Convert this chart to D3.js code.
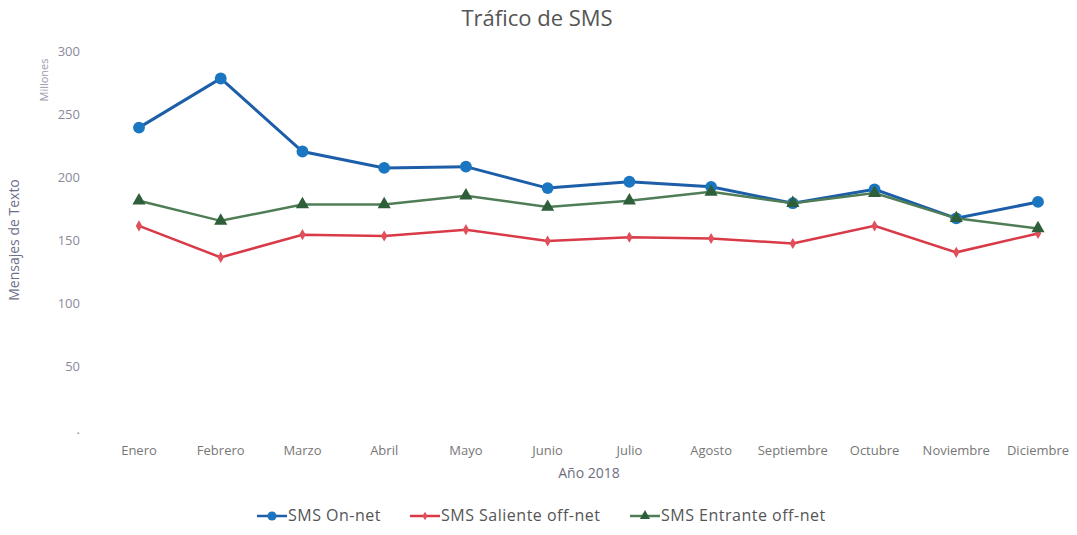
<!DOCTYPE html>
<html>
<head>
<meta charset="utf-8">
<script src="https://cdn.jsdelivr.net/npm/d3@7"></script>
<style>
  body { margin: 0; background: #fff; }
  svg { font-family: "Open Sans", "Noto Sans", sans-serif; }
</style>
</head>
<body>
<div id="chart"></div>
<script>
const months = ["Enero", "Febrero", "Marzo", "Abril", "Mayo", "Junio", "Julio", "Agosto", "Septiembre", "Octubre", "Noviembre", "Diciembre"]
const onNet = [240, 279, 221, 208, 209, 192, 197, 193, 180, 191, 168, 181]
const salienteOffNet = [162, 137, 155, 154, 159, 150, 153, 152, 148, 162, 141, 156]
const entranteOffNet = [182, 166, 179, 179, 186, 177, 182, 189, 180, 188, 168, 160]
const yTicks = [0, 50, 100, 150, 200, 250, 300]

const series = [
  { name: "SMS On-net", values: onNet, line: "#1c5ea8", mark: "#1a76c0", shape: "circle" },
  { name: "SMS Saliente off-net", values: salienteOffNet, line: "#d93a48", mark: "#e0505a", shape: "diamond" },
  { name: "SMS Entrante off-net", values: entranteOffNet, line: "#4f7d56", mark: "#2f5f3a", shape: "triangle" }
]

const width = 1077
const height = 535
const svg = d3.select("#chart").append("svg")
  .attr("width", width)
  .attr("height", height)

const x = d3.scalePoint().domain(months).range([139, 1038])
const y = d3.scaleLinear().domain([0, 300]).range([430, 52])

svg.append("text")
  .attr("x", 537)
  .attr("y", 26)
  .attr("text-anchor", "middle")
  .attr("font-size", "22px")
  .attr("fill", "#555")
  .text("Tráfico de SMS")

// y axis labels
svg.append("g")
  .selectAll("text")
  .data(yTicks)
  .enter()
  .append("text")
  .attr("x", 80)
  .attr("y", (d) => y(d) + 4)
  .attr("text-anchor", "end")
  .attr("font-size", "13px")
  .attr("fill", "#8a8a9a")
  .text((d) => (d === 0 ? "." : d))

svg.append("text")
  .attr("transform", "translate(48,80) rotate(-90)")
  .attr("text-anchor", "middle")
  .attr("font-size", "11px")
  .attr("fill", "#9a9aae")
  .text("Millones")

svg.append("text")
  .attr("transform", "translate(19,240) rotate(-90)")
  .attr("text-anchor", "middle")
  .attr("font-size", "14px")
  .attr("fill", "#6e6e8a")
  .text("Mensajes de Texto")

// x axis labels
svg.append("g")
  .selectAll("text")
  .data(months)
  .enter()
  .append("text")
  .attr("x", (d) => x(d))
  .attr("y", 455)
  .attr("text-anchor", "middle")
  .attr("font-size", "13px")
  .attr("fill", "#777")
  .text((d) => d)

svg.append("text")
  .attr("x", 589)
  .attr("y", 478)
  .attr("text-anchor", "middle")
  .attr("font-size", "14px")
  .attr("fill", "#6e6e80")
  .text("Año 2018")

const symbolFor = (shape, size) => {
  const type = shape === "circle" ? d3.symbolCircle : shape === "diamond" ? d3.symbolDiamond : d3.symbolTriangle
  return d3.symbol().type(type).size(size)()
}
const sizes = { circle: 110, diamond: 36, triangle: 75 }

const line = d3.line()
  .x((d, i) => x(months[i]))
  .y((d) => y(d))

series.forEach((s) => {
  const g = svg.append("g")
  g.append("path")
    .attr("d", line(s.values))
    .attr("fill", "none")
    .attr("stroke", s.line)
    .attr("stroke-width", s.shape === "circle" ? 3 : 2.5)
  g.selectAll("path.mk")
    .data(s.values)
    .enter()
    .append("path")
    .attr("class", "mk")
    .attr("transform", (d, i) => `translate(${x(months[i])},${y(d)})`)
    .attr("d", symbolFor(s.shape, sizes[s.shape]))
    .attr("fill", s.mark)
})

// legend
const legendX = [257, 410, 630]
const legend = svg.append("g")
series.forEach((s, i) => {
  const lg = legend.append("g").attr("transform", `translate(${legendX[i]},516)`)
  lg.append("line")
    .attr("x1", 0).attr("x2", 30)
    .attr("stroke", s.line)
    .attr("stroke-width", 2.5)
  lg.append("path")
    .attr("transform", "translate(15,0)")
    .attr("d", symbolFor(s.shape, sizes[s.shape] * 0.6))
    .attr("fill", s.mark)
  lg.append("text")
    .attr("x", 31)
    .attr("y", 5)
    .attr("font-size", "16px")
    .attr("letter-spacing", "0.5px")
    .attr("fill", "#555")
    .text(s.name)
})
</script>
</body>
</html>
